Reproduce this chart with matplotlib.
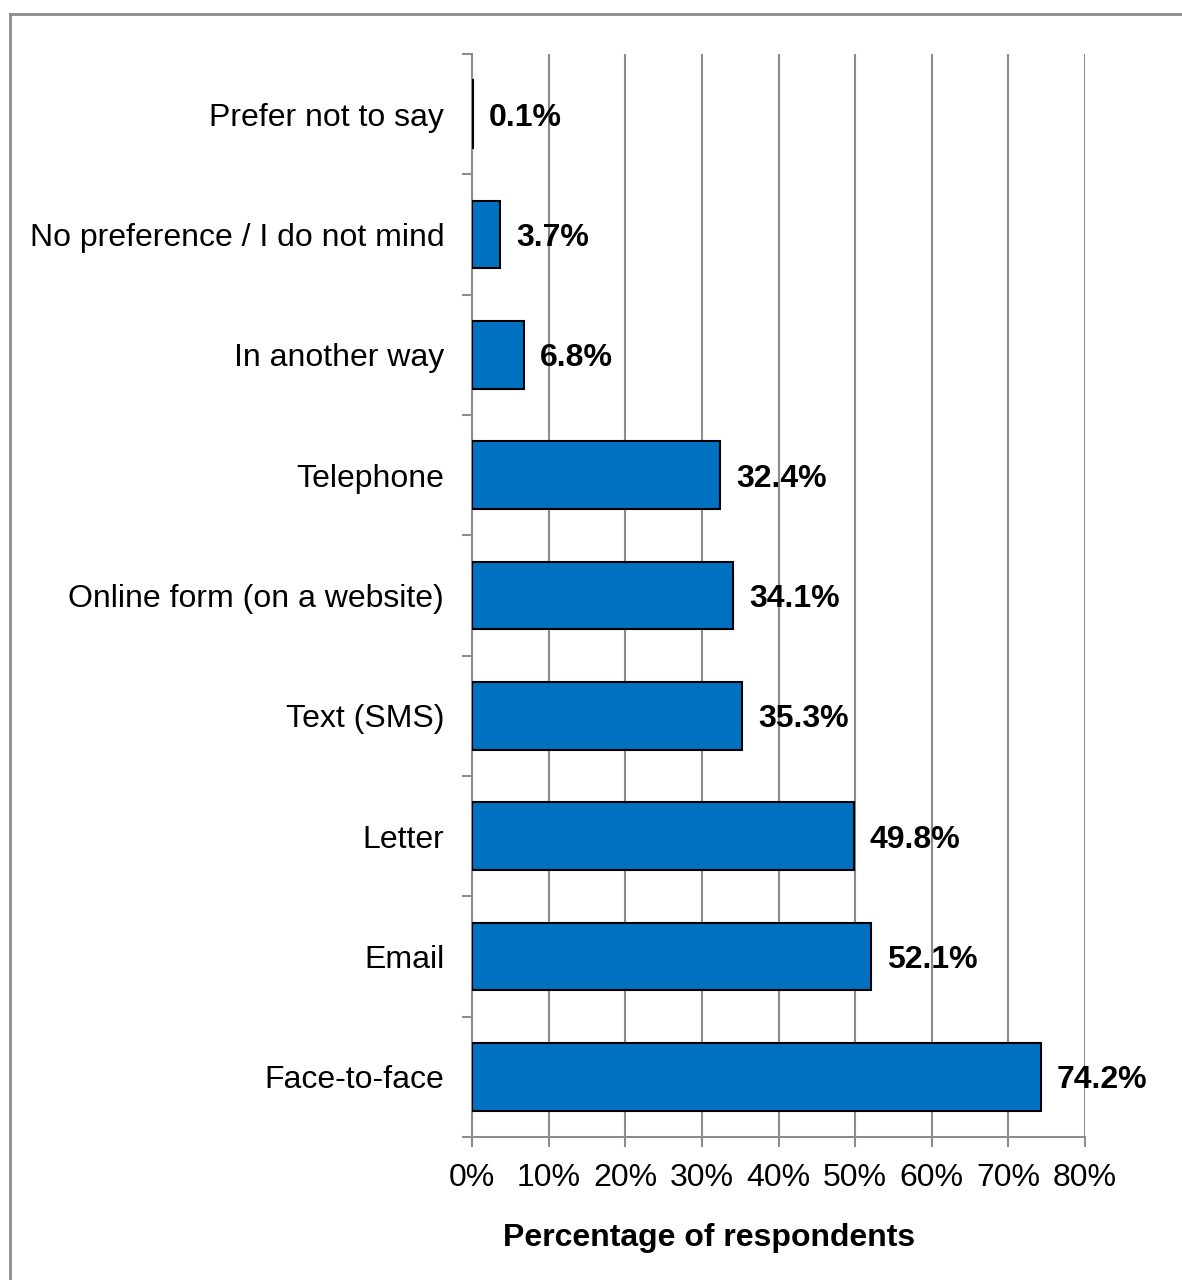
import matplotlib.pyplot as plt
from matplotlib.lines import Line2D
from matplotlib.ticker import FixedLocator, FuncFormatter

plt.rcParams['font.family'] = ['Liberation Sans', 'DejaVu Sans']

# Survey answers, bottom to top as drawn.
methods = ["Face-to-face", "Email", "Letter", "Text (SMS)", "Online form (on a website)",
           "Telephone", "In another way", "No preference / I do not mind", "Prefer not to say"]
percent = [74.2, 52.1, 49.8, 35.3, 34.1, 32.4, 6.8, 3.7, 0.1]
x_ticks = [0, 10, 20, 30, 40, 50, 60, 70, 80]

W, H = 1182, 1280
fig = plt.figure(figsize=(W / 100, H / 100), dpi=100)
ax = fig.add_axes([472 / W, 1 - 1137 / H, (1085 - 472) / W, (1137 - 54) / H])

grey = "#8c8c8c"
pos = range(len(methods))
ax.barh(pos, percent, height=0.565, color="#0070C0", edgecolor="black",
        linewidth=1.5, zorder=3)

# Value labels next to each bar.
for y, v in zip(pos, percent):
    ax.annotate(f"{v:.1f}%", (v, y), xytext=(11.5, -2.5), textcoords="offset points",
                ha="left", va="center", fontsize=23, fontweight="bold", zorder=4)

ax.set_xlim(0, 80)
ax.set_ylim(-0.5, len(methods) - 0.5)
ax.set_xticks(x_ticks)
ax.xaxis.set_major_formatter(FuncFormatter(lambda v, p: f"{v:.0f}%"))
ax.tick_params(axis="x", length=7.2, width=1.5, color=grey, labelsize=23, pad=11.5)
ax.xaxis.grid(True, color=grey, linewidth=1.5, zorder=0)

# Category names, with tick marks between categories.
ax.set_yticks(list(pos))
ax.set_yticklabels(methods)
ax.tick_params(axis="y", which="major", length=0, labelsize=23, pad=20)
ax.yaxis.set_minor_locator(FixedLocator([i - 0.5 for i in range(len(methods) + 1)]))
ax.tick_params(axis="y", which="minor", length=7.2, width=1.5, color=grey)

for side in ("top", "right"):
    ax.spines[side].set_visible(False)
for side in ("left", "bottom"):
    ax.spines[side].set_color(grey)
    ax.spines[side].set_linewidth(1.5)

ax.set_xlabel("Percentage of respondents", fontsize=23, fontweight="bold")
ax.xaxis.set_label_coords((709 - 472) / (1085 - 472), -(1238 - 1137) / (1137 - 54))
ax.xaxis.label.set_va("center")

# Chart frame along the top and left edges.
fx, fy = 10 / W, 1 - 14 / H
fig.add_artist(Line2D([fx, fx], [0, fy], color=grey, linewidth=2, transform=fig.transFigure))
fig.add_artist(Line2D([fx, 1], [fy, fy], color=grey, linewidth=2, transform=fig.transFigure))

fig.savefig("out.png", dpi=100, facecolor="white")
